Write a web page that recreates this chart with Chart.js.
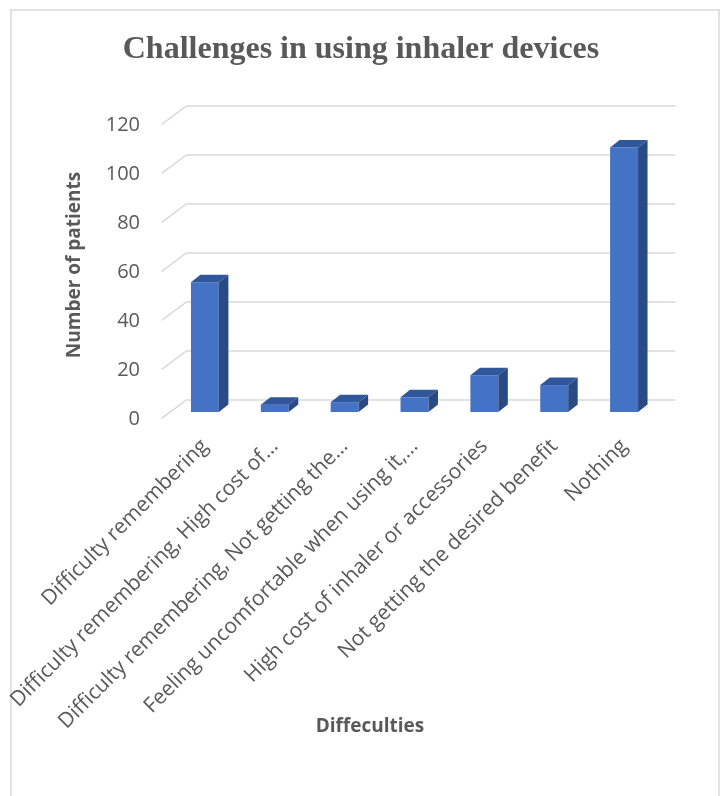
<!DOCTYPE html>
<html>
<head>
<meta charset="utf-8">
<script src="https://cdn.jsdelivr.net/npm/chart.js@4/dist/chart.umd.min.js"></script>
<style>
  html, body { margin: 0; padding: 0; background: #ffffff; }
  #wrap { width: 722px; height: 796px; position: relative; }
</style>
</head>
<body>
<div id="wrap"><canvas id="c" width="722" height="796"></canvas></div>
<script>
// Survey answers: what makes inhaler use difficult
const categories = [
  'Difficulty remembering',
  'Difficulty remembering, High cost of…',
  'Difficulty remembering, Not getting the…',
  'Feeling uncomfortable when using it,…',
  'High cost of inhaler or accessories',
  'Not getting the desired benefit',
  'Nothing'
];
const patients = [53, 3, 4, 6, 15, 11, 108];
const yTicks = [0, 20, 40, 60, 80, 100, 120];

const TEXT = '#595959';
const GRID = '#d9d9d9';
const FACE = '#4472c4';
const TOP_FACE = '#30579b';
const SIDE_FACE = '#2a4a84';
const X_TITLE = 'Diffeculties';

// Perspective offsets of the back wall, the front edge and the column depth
const BACK = { dx: 16.4, dy: -12 };
const FRONT = { dx: -8.3, dy: 6.3 };
const DEPTH = { dx: 9.5, dy: -7.5 };

const frame = {
  id: 'frame',
  beforeDraw(chart) {
    const ctx = chart.ctx;
    ctx.save();
    ctx.fillStyle = '#ffffff';
    ctx.fillRect(0, 0, chart.width, chart.height);
    ctx.strokeStyle = GRID;
    ctx.lineWidth = 1.5;
    ctx.strokeRect(11, 10, 708, 820);
    ctx.restore();
  },
  afterDraw(chart) {
    // category axis title, centred under the plot
    const ctx = chart.ctx;
    ctx.save();
    ctx.fillStyle = TEXT;
    ctx.font = 'bold 19px "Open Sans"';
    ctx.textAlign = 'center';
    ctx.textBaseline = 'middle';
    ctx.fillText(X_TITLE, 370, 727);
    ctx.restore();
  }
};

const walls3d = {
  id: 'walls3d',
  beforeDatasetsDraw(chart) {
    const { ctx, chartArea: a, scales: { y } } = chart;
    ctx.save();
    ctx.strokeStyle = GRID;
    ctx.lineWidth = 1.5;
    yTicks.forEach(v => {
      const py = y.getPixelForValue(v);
      ctx.beginPath();
      ctx.moveTo(a.left + FRONT.dx, py + FRONT.dy);
      ctx.lineTo(a.left + BACK.dx, py + BACK.dy);
      ctx.lineTo(a.right + BACK.dx, py + BACK.dy);
      ctx.stroke();
    });
    ctx.restore();
  },
  afterDatasetsDraw(chart) {
    const ctx = chart.ctx;
    const meta = chart.getDatasetMeta(0);
    ctx.save();
    meta.data.forEach(bar => {
      const { x, y, base, width } = bar.getProps(['x', 'y', 'base', 'width'], true);
      const l = x - width / 2, r = x + width / 2;
      // top face
      ctx.fillStyle = TOP_FACE;
      ctx.beginPath();
      ctx.moveTo(l, y);
      ctx.lineTo(l + DEPTH.dx, y + DEPTH.dy);
      ctx.lineTo(r + DEPTH.dx, y + DEPTH.dy);
      ctx.lineTo(r, y);
      ctx.closePath();
      ctx.fill();
      // side face
      ctx.fillStyle = SIDE_FACE;
      ctx.beginPath();
      ctx.moveTo(r, y);
      ctx.lineTo(r + DEPTH.dx, y + DEPTH.dy);
      ctx.lineTo(r + DEPTH.dx, base + DEPTH.dy);
      ctx.lineTo(r, base);
      ctx.closePath();
      ctx.fill();
    });
    ctx.restore();
  }
};

new Chart(document.getElementById('c'), {
  type: 'bar',
  data: {
    labels: categories,
    datasets: [{
      data: patients,
      backgroundColor: FACE,
      borderWidth: 0,
      categoryPercentage: 1,
      barPercentage: 0.4
    }]
  },
  options: {
    responsive: false,
    animation: false,
    devicePixelRatio: 1,
    layout: { padding: { top: 0, left: 63, right: 63, bottom: 51 } },
    plugins: {
      legend: { display: false },
      tooltip: { enabled: false },
      title: {
        display: true,
        text: 'Challenges in using inhaler devices',
        color: TEXT,
        font: { family: 'Liberation Serif', size: 32, weight: 'bold', lineHeight: 1.2 },
        padding: { top: 31, bottom: 48.6 }
      }
    },
    scales: {
      x: {
        grid: { display: false },
        border: { display: false },
        ticks: {
          autoSkip: false,
          maxRotation: 45,
          minRotation: 45,
          color: TEXT,
          padding: 14,
          labelOffset: 0,
          font: { family: 'Open Sans', size: 21 }
        },
        afterFit(s) { s.height = 333; s.paddingLeft = 0; s.paddingRight = 0; }
      },
      y: {
        min: 0,
        max: 120,
        grid: { display: false },
        border: { display: false },
        afterBuildTicks(s) { s.ticks = yTicks.map(v => ({ value: v })); },
        ticks: {
          color: TEXT,
          padding: 22,
          labelOffset: 7,
          font: { family: 'Open Sans', size: 20 }
        },
        title: {
          display: true,
          text: 'Number of patients',
          color: TEXT,
          font: { family: 'Open Sans', size: 19, weight: 'bold', lineHeight: 1.2 },
          padding: { top: 0, bottom: 0 }
        },
        afterFit(s) { s.width = 107; s.paddingTop = 0; s.paddingBottom = 0; }
      }
    }
  },
  plugins: [frame, walls3d]
});
</script>
</body>
</html>
